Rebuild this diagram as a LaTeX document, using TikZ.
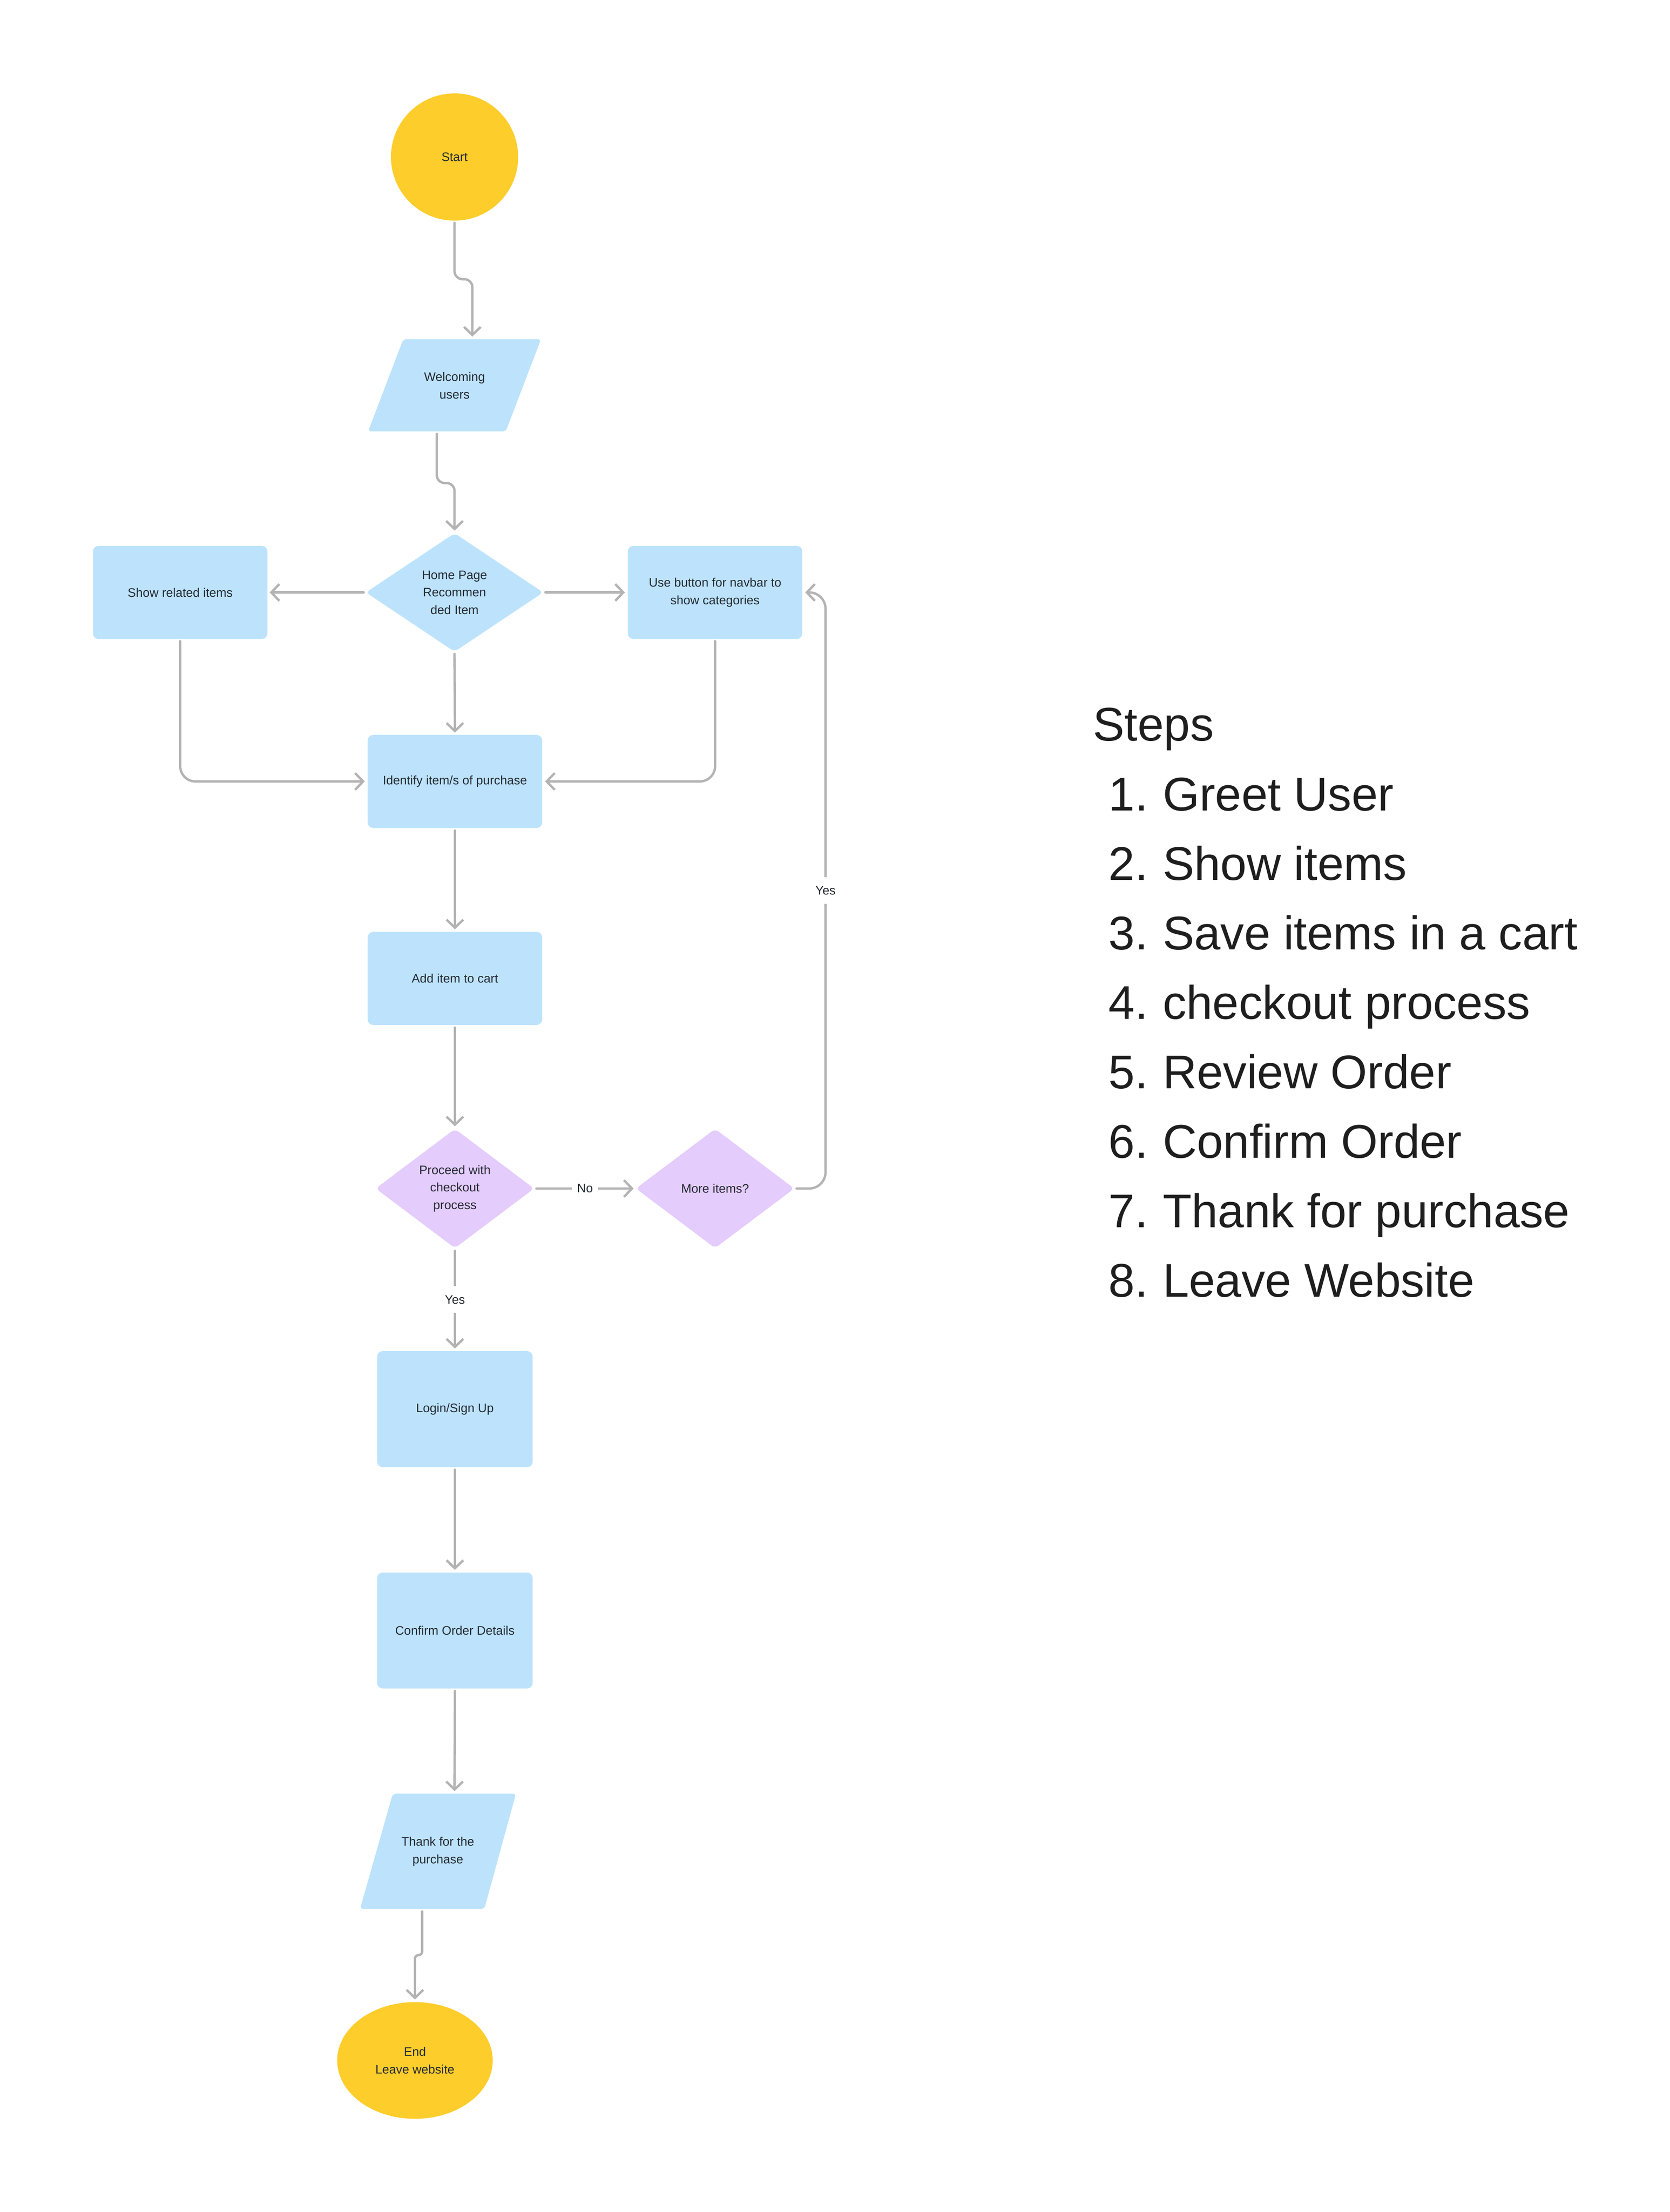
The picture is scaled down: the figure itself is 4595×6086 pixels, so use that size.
\documentclass[tikz,border=0pt]{standalone}
\usepackage{fontspec}
\setmainfont{Liberation Sans}
\usetikzlibrary{shapes.geometric,arrows.meta}
\definecolor{boxblue}{HTML}{BDE3FC}
\definecolor{decpurple}{HTML}{E4CCFC}
\definecolor{termyellow}{HTML}{FDCD2B}
\definecolor{linegray}{HTML}{B3B3B3}
\definecolor{txt}{HTML}{252B33}
\definecolor{steptxt}{HTML}{1E1E1E}
\tikzset{
  nodetext/.style={font=\fontsize{34}{48}\selectfont, text=txt, align=center},
  procbox/.style={nodetext, rectangle, fill=boxblue, rounded corners=15pt,
    minimum width=480pt, minimum height=256pt, inner sep=0pt},
  smallbox/.style={procbox, minimum width=428pt, minimum height=319pt},
  decision/.style={nodetext, diamond, fill=decpurple, rounded corners=12pt, inner sep=0pt,
    minimum width=436pt, minimum height=328pt},
  homedecision/.style={nodetext, diamond, fill=boxblue, rounded corners=12pt, inner sep=0pt,
    minimum width=488pt, minimum height=326pt},
  terminal/.style={nodetext, fill=termyellow, inner sep=0pt},
  slanted/.style={fill=boxblue, rounded corners=9pt},
  flow/.style={draw=linegray, line width=6.5pt, line cap=round, line join=round,
    -{Straight Barb[length=22pt,width=46pt]}},
  flowlabel/.style={nodetext, fill=white, inner xsep=14pt, inner ysep=25pt},
  steptext/.style={font=\fontsize{130}{192}\selectfont, text=steptxt, inner sep=0pt},
}
\begin{document}
\begin{tikzpicture}[x=1pt,y=-1pt]
\fill[white] (0,0) rectangle (4595,6086);
\useasboundingbox (0,0) rectangle (4595,6086);

% ---- shapes ----
\node[terminal, circle, minimum size=350pt] (start) at (1251,432) {Start};

\fill[slanted] (1110,933) -- (1489,933) -- (1392,1187) -- (1013,1187) -- cycle;
\node[nodetext] (welcome) at (1251,1061) {Welcoming\\users};
\coordinate (welcome-top) at (1300,933);
\coordinate (welcome-bot) at (1202,1187);

\node[homedecision] (home) at (1251,1630) {Home Page\\Recommen\\ded Item};
\node[procbox] (showrel) at (496,1630) {Show related items};
\node[procbox] (usebtn) at (1968,1630) {Use button for navbar to\\show categories};
\node[procbox] (identify) at (1252,2150) {Identify item/s of purchase};
\node[procbox] (addcart) at (1252,2692) {Add item to cart};
\node[decision] (proceed) at (1252,3270) {Proceed with\\checkout\\process};
\node[decision] (more) at (1968,3270) {More items?};
\node[smallbox] (login) at (1252,3877) {Login/Sign Up};
\node[smallbox] (confirm) at (1252,4486) {Confirm Order Details};

\fill[slanted] (1081,4935) -- (1420,4935) -- (1333,5252) -- (991,5252) -- cycle;
\node[nodetext] (thank) at (1205,5094) {Thank for the\\purchase};
\coordinate (thank-top) at (1251,4935);
\coordinate (thank-bot) at (1162,5252);

\node[terminal, ellipse, minimum width=428pt, minimum height=321pt] (endnode) at (1142,5669) {End\\Leave website};

\coordinate (loopx) at (2272,0);

% ---- connectors ----
\draw[flow, rounded corners=22pt] ([yshift=-6pt]start.south) -- ++(0,155) -| ([yshift=7pt]welcome-top);
\draw[flow, rounded corners=22pt] ([yshift=-7pt]welcome-bot) -- ++(0,135) -| ([yshift=7pt]home.north);
\draw[flow] ([xshift=-6pt]home.west) -- ([xshift=6pt]showrel.east);
\draw[flow] ([xshift=6pt]home.east) -- ([xshift=-8pt]usebtn.west);
\draw[flow] ([yshift=-6pt]home.south) -- ([yshift=6pt]identify.north);
\draw[flow, rounded corners=42pt] ([yshift=-6pt]showrel.south) |- ([xshift=-8pt]identify.west);
\draw[flow, rounded corners=42pt] ([yshift=-6pt]usebtn.south) |- ([xshift=8pt]identify.east);
\draw[flow] ([yshift=-7pt]identify.south) -- ([yshift=7pt]addcart.north);
\draw[flow] ([yshift=-7pt]addcart.south) -- ([yshift=7pt]proceed.north);
\draw[flow] ([xshift=6pt]proceed.east) -- node[flowlabel] (nolabel) {No} ([xshift=-6pt]more.west);
\draw[flow, rounded corners=45pt] ([xshift=6pt]more.east) -| node[pos=0.75, flowlabel] (yeslabelloop) {Yes} (loopx |- usebtn.east) -- ([xshift=8pt]usebtn.east);
\draw[flow] ([yshift=-7pt]proceed.south) -- node[flowlabel] (yeslabel) {Yes} ([yshift=7pt]login.north);
\draw[flow] ([yshift=-7pt]login.south) -- ([yshift=7pt]confirm.north);
\draw[flow] ([yshift=-7pt]confirm.south) -- ([yshift=7pt]thank-top);
\draw[flow, rounded corners=10pt] ([yshift=-7pt]thank-bot) -- ++(0,120) -| ([yshift=7pt]endnode.north);

% ---- steps list ----
\node[steptext, anchor=base west] (stepstitle) at (3008,2038) {Steps};
\foreach \t [count=\i] in {Greet User, Show items, Save items in a cart, checkout process,
  Review Order, Confirm Order, Thank for purchase, Leave Website}{
  \node[steptext, anchor=base east] (stepnum\i) at (3160,{2230+191.2*(\i-1)}) {\i.};
  \node[steptext, anchor=base west] (steplabel\i) at (3200,{2230+191.2*(\i-1)}) {\t};
}
\end{tikzpicture}
\end{document}
